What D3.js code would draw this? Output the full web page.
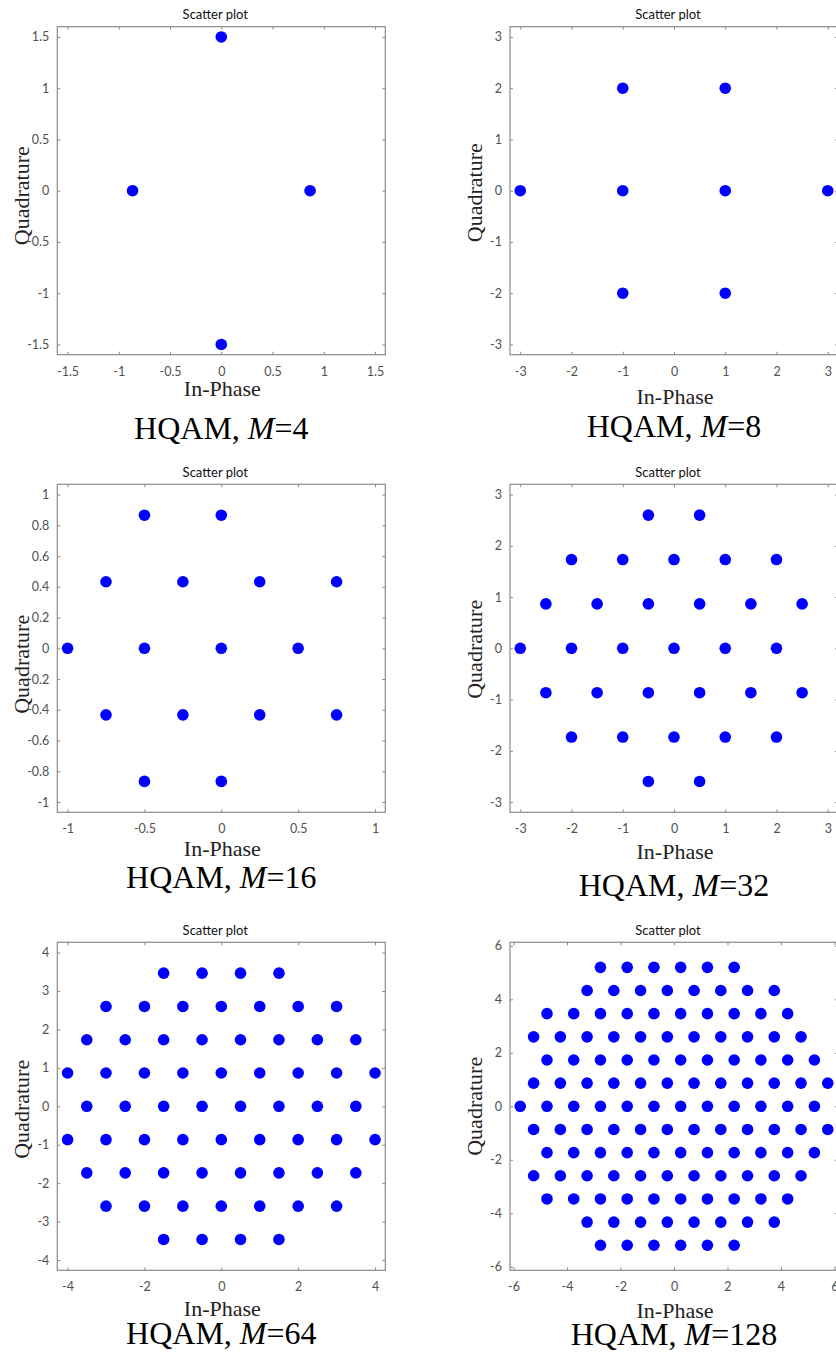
<!DOCTYPE html>
<html>
<head>
<meta charset="utf-8">
<script src="https://cdn.jsdelivr.net/npm/d3@7"></script>
<style>
  body { margin: 0; background: #fff; }
</style>
</head>
<body>
<script>
// HQAM constellations, one row of the hex grid per entry (y level + the x positions on it)
var hqam4 = [
  {y: 1.5, x: [0]},
  {y: 0, x: [-0.866, 0.866]},
  {y: -1.5, x: [0]}
];
var hqam8 = [
  {y: 2, x: [-1, 1]},
  {y: 0, x: [-3, -1, 1, 3]},
  {y: -2, x: [-1, 1]}
];
var hqam16 = [
  {y: 0.866, x: [-0.5, 0]},
  {y: 0.433, x: [-0.75, -0.25, 0.25, 0.75]},
  {y: 0, x: [-1, -0.5, 0, 0.5]},
  {y: -0.433, x: [-0.75, -0.25, 0.25, 0.75]},
  {y: -0.866, x: [-0.5, 0]}
];
var hqam32 = [
  {y: 2.598, x: [-0.5, 0.5]},
  {y: 1.732, x: [-2, -1, 0, 1, 2]},
  {y: 0.866, x: [-2.5, -1.5, -0.5, 0.5, 1.5, 2.5]},
  {y: 0, x: [-3, -2, -1, 0, 1, 2]},
  {y: -0.866, x: [-2.5, -1.5, -0.5, 0.5, 1.5, 2.5]},
  {y: -1.732, x: [-2, -1, 0, 1, 2]},
  {y: -2.598, x: [-0.5, 0.5]}
];
var hqam64 = [
  {y: 3.464, x: [-1.5, -0.5, 0.5, 1.5]},
  {y: 2.598, x: [-3, -2, -1, 0, 1, 2, 3]},
  {y: 1.732, x: [-3.5, -2.5, -1.5, -0.5, 0.5, 1.5, 2.5, 3.5]},
  {y: 0.866, x: [-4, -3, -2, -1, 0, 1, 2, 3, 4]},
  {y: 0, x: [-3.5, -2.5, -1.5, -0.5, 0.5, 1.5, 2.5, 3.5]},
  {y: -0.866, x: [-4, -3, -2, -1, 0, 1, 2, 3, 4]},
  {y: -1.732, x: [-3.5, -2.5, -1.5, -0.5, 0.5, 1.5, 2.5, 3.5]},
  {y: -2.598, x: [-3, -2, -1, 0, 1, 2, 3]},
  {y: -3.464, x: [-1.5, -0.5, 0.5, 1.5]}
];
var hqam128 = [
  {y: 5.196, x: [-2.75, -1.75, -0.75, 0.25, 1.25, 2.25]},
  {y: 4.33, x: [-3.25, -2.25, -1.25, -0.25, 0.75, 1.75, 2.75, 3.75]},
  {y: 3.464, x: [-4.75, -3.75, -2.75, -1.75, -0.75, 0.25, 1.25, 2.25, 3.25, 4.25]},
  {y: 2.598, x: [-5.25, -4.25, -3.25, -2.25, -1.25, -0.25, 0.75, 1.75, 2.75, 3.75, 4.75]},
  {y: 1.732, x: [-4.75, -3.75, -2.75, -1.75, -0.75, 0.25, 1.25, 2.25, 3.25, 4.25, 5.25]},
  {y: 0.866, x: [-5.25, -4.25, -3.25, -2.25, -1.25, -0.25, 0.75, 1.75, 2.75, 3.75, 4.75, 5.75]},
  {y: 0, x: [-5.75, -4.75, -3.75, -2.75, -1.75, -0.75, 0.25, 1.25, 2.25, 3.25, 4.25, 5.25]},
  {y: -0.866, x: [-5.25, -4.25, -3.25, -2.25, -1.25, -0.25, 0.75, 1.75, 2.75, 3.75, 4.75, 5.75]},
  {y: -1.732, x: [-4.75, -3.75, -2.75, -1.75, -0.75, 0.25, 1.25, 2.25, 3.25, 4.25, 5.25]},
  {y: -2.598, x: [-5.25, -4.25, -3.25, -2.25, -1.25, -0.25, 0.75, 1.75, 2.75, 3.75, 4.75]},
  {y: -3.464, x: [-4.75, -3.75, -2.75, -1.75, -0.75, 0.25, 1.25, 2.25, 3.25, 4.25]},
  {y: -4.33, x: [-3.25, -2.25, -1.25, -0.25, 0.75, 1.75, 2.75, 3.75]},
  {y: -5.196, x: [-2.75, -1.75, -0.75, 0.25, 1.25, 2.25]}
];

var orders = [4, 8, 16, 32, 64, 128];
var constellations = [hqam4, hqam8, hqam16, hqam32, hqam64, hqam128];

// symmetric axis limits (+/-) for each panel
var axisLimits = [1.6, 3.2, 1.067, 3.2, 4.267, 6.133];

var xTicks = [
  [-1.5, -1, -0.5, 0, 0.5, 1, 1.5],
  [-3, -2, -1, 0, 1, 2, 3],
  [-1, -0.5, 0, 0.5, 1],
  [-3, -2, -1, 0, 1, 2, 3],
  [-4, -2, 0, 2, 4],
  [-6, -4, -2, 0, 2, 4, 6]
];
var yTicks = [
  [-1.5, -1, -0.5, 0, 0.5, 1, 1.5],
  [-3, -2, -1, 0, 1, 2, 3],
  [-1, -0.8, -0.6, -0.4, -0.2, 0, 0.2, 0.4, 0.6, 0.8, 1],
  [-3, -2, -1, 0, 1, 2, 3],
  [-4, -3, -2, -1, 0, 1, 2, 3, 4],
  [-6, -4, -2, 0, 2, 4, 6]
];

// layout stuff
var par = {
  w: 836, h: 1352,
  box: 328,
  col_x: [57.3, 510],
  row_y: [26.7, 484.3, 942.3],
  tick_len: 3,
  dot_r: 5.8,
  dot_color: "#0000ff",
  axis_color: "#8a8a8a",
  tick_text_color: "#505050",
  sans: "Lato, 'Open Sans', sans-serif",
  serif: "'Liberation Serif', 'Times New Roman', serif"
};
// per panel offsets of the x label / caption baselines below the box, and y label shift
var labelPos = [
  {xlab: 41, cap: 84, ylab: 5},
  {xlab: 49, cap: 82, ylab: 2},
  {xlab: 44, cap: 76, ylab: 16},
  {xlab: 47, cap: 84, ylab: 1},
  {xlab: 46, cap: 74, ylab: 3},
  {xlab: 48, cap: 75, ylab: 0}
];

var svg = d3.select("body")
  .append("svg")
  .attr("width", par.w)
  .attr("height", par.h);

svg.append("rect")
  .attr("x", 0).attr("y", 0)
  .attr("width", par.w).attr("height", par.h)
  .style("fill", "#fff");

var draw_panel = function(i) {
  var left = par.col_x[i % 2];
  var top = par.row_y[Math.floor(i / 2)];
  var lim = axisLimits[i];
  var s = par.box;

  var x = d3.scaleLinear().domain([-lim, lim]).range([0, s]);
  var y = d3.scaleLinear().domain([-lim, lim]).range([s, 0]);

  var g = svg.append("g")
    .attr("transform", "translate(" + left + "," + top + ")");

  // ticks on all four sides, pointing inward (matlab style)
  var fmt = function(d) { return String(d); };
  var blank = function() { return ""; };
  var axes = [
    {ax: d3.axisBottom(x).tickValues(xTicks[i]).tickFormat(fmt).tickPadding(12), tr: "translate(0," + s + ")"},
    {ax: d3.axisLeft(y).tickValues(yTicks[i]).tickFormat(fmt).tickPadding(8), tr: "translate(0,0)"},
    {ax: d3.axisTop(x).tickValues(xTicks[i]).tickFormat(blank), tr: "translate(0,0)"},
    {ax: d3.axisRight(y).tickValues(yTicks[i]).tickFormat(blank), tr: "translate(" + s + ",0)"}
  ];
  axes.forEach(function(a) {
    var ag = g.append("g")
      .attr("transform", a.tr)
      .call(a.ax.tickSizeInner(-par.tick_len).tickSizeOuter(0));
    ag.select(".domain").remove();
    ag.selectAll(".tick line").attr("stroke", par.axis_color);
    ag.selectAll(".tick text")
      .attr("fill", par.tick_text_color)
      .style("font-family", par.sans)
      .style("font-size", "12.5px");
  });

  // box
  g.append("rect")
    .attr("x", 0).attr("y", 0)
    .attr("width", s).attr("height", s)
    .style("fill", "none")
    .style("stroke", par.axis_color)
    .style("stroke-width", 1.2);

  // constellation points
  var pts = [];
  constellations[i].forEach(function(row) {
    row.x.forEach(function(v) { pts.push({x: v, y: row.y}); });
  });
  g.selectAll("circle.pt")
    .data(pts)
    .enter()
    .append("circle")
    .attr("class", "pt")
    .attr("cx", function(d) { return x(d.x); })
    .attr("cy", function(d) { return y(d.y); })
    .attr("r", par.dot_r)
    .style("fill", par.dot_color);

  // title
  g.append("text")
    .attr("x", s / 2 - 6)
    .attr("y", -7.5)
    .attr("text-anchor", "middle")
    .style("font-family", par.sans)
    .style("font-size", "13px")
    .style("fill", "#111")
    .text("Scatter plot");

  // axis labels
  g.append("text")
    .attr("x", s / 2 + 1)
    .attr("y", s + labelPos[i].xlab)
    .attr("text-anchor", "middle")
    .style("font-family", par.serif)
    .style("font-size", "22px")
    .style("fill", "#222")
    .text("In-Phase");

  g.append("text")
    .attr("transform", "translate(-28," + (s / 2 + labelPos[i].ylab) + ") rotate(-90)")
    .attr("text-anchor", "middle")
    .style("font-family", par.serif)
    .style("font-size", "22px")
    .style("fill", "#222")
    .text("Quadrature");

  // caption under the panel
  var cap = g.append("text")
    .attr("x", s / 2)
    .attr("y", s + labelPos[i].cap)
    .attr("text-anchor", "middle")
    .style("font-family", par.serif)
    .style("font-size", "32px")
    .style("fill", "#000");
  cap.append("tspan").text("HQAM, ");
  cap.append("tspan").style("font-style", "italic").text("M");
  cap.append("tspan").text("=" + orders[i]);
};

for (var i = 0; i < constellations.length; i++) {
  draw_panel(i);
}
</script>
</body>
</html>
